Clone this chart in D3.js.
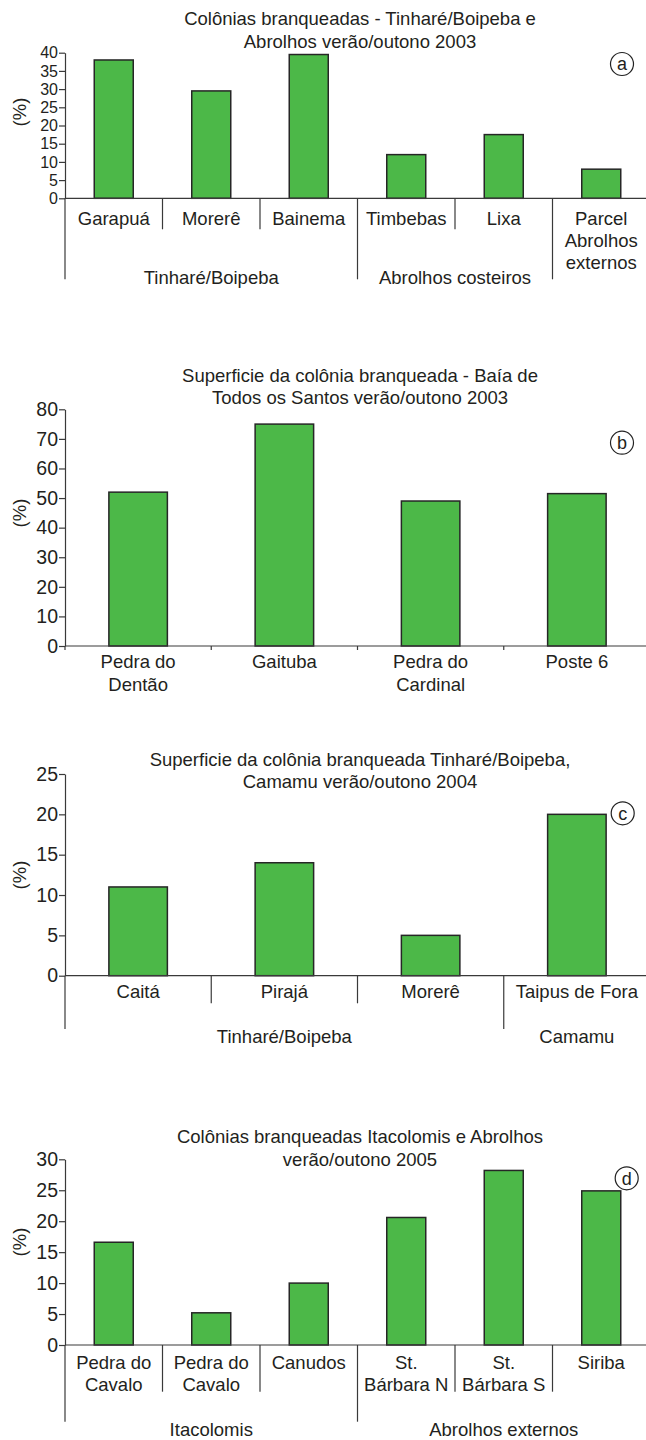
<!DOCTYPE html>
<html>
<head>
<meta charset="utf-8">
<script src="https://cdn.jsdelivr.net/npm/d3@7"></script>
<style>
  html, body { margin: 0; padding: 0; background: #fff; }
  svg { display: block; }
</style>
</head>
<body>
<div id="chart"></div>
<script>
// ---- (a) Colônias branqueadas 2003 ----
const catsA = [["Garapuá"], ["Morerê"], ["Bainema"], ["Timbebas"], ["Lixa"], ["Parcel", "Abrolhos", "externos"]];
const valuesA = [38, 29.5, 39.5, 12, 17.5, 8];
const groupsA = [["Tinharé/Boipeba", 3], ["Abrolhos costeiros", 2], ["", 1]];
const titleA = ["Colônias branqueadas - Tinharé/Boipeba e", "Abrolhos verão/outono 2003"];
const ticksA = [0, 5, 10, 15, 20, 25, 30, 35, 40];

// ---- (b) Baía de Todos os Santos 2003 ----
const catsB = [["Pedra do", "Dentão"], ["Gaituba"], ["Pedra do", "Cardinal"], ["Poste 6"]];
const valuesB = [52, 75, 49, 51.5];
const titleB = ["Superficie da colônia branqueada - Baía de", "Todos os Santos verão/outono 2003"];
const ticksB = [0, 10, 20, 30, 40, 50, 60, 70, 80];

// ---- (c) Tinharé/Boipeba, Camamu 2004 ----
const catsC = [["Caitá"], ["Pirajá"], ["Morerê"], ["Taipus de Fora"]];
const valuesC = [11, 14, 5, 20];
const groupsC = [["Tinharé/Boipeba", 3], ["Camamu", 1]];
const titleC = ["Superficie da colônia branqueada Tinharé/Boipeba,", "Camamu verão/outono 2004"];
const ticksC = [0, 5, 10, 15, 20, 25];

// ---- (d) Itacolomis e Abrolhos 2005 ----
const catsD = [["Pedra do", "Cavalo"], ["Pedra do", "Cavalo"], ["Canudos"], ["St.", "Bárbara N"], ["St.", "Bárbara S"], ["Siriba"]];
const valuesD = [16.6, 5.2, 10, 20.6, 28.2, 24.9];
const groupsD = [["Itacolomis", 3], ["Abrolhos externos", 3]];
const titleD = ["Colônias branqueadas Itacolomis e Abrolhos", "verão/outono 2005"];
const ticksD = [0, 5, 10, 15, 20, 25, 30];

const W = 646, H = 1440;
const FONT = "'Liberation Sans', Arial, Helvetica, sans-serif";
const TEXT = "#231f20";
const AXIS = "#3a3a3a";
const FILL = "#4cb848";
const EDGE = "#262626";
const FS = 18.5;

const svg = d3.select("#chart").append("svg")
  .attr("width", W).attr("height", H)
  .attr("font-family", FONT);

// Panel layout (pixel placement of each chart)
const panels = [
  { badge: "a", cats: catsA, values: valuesA, groups: groupsA, title: titleA, ticks: ticksA,
    zeroY: 198.3, topY: 52.7, titleY: [19, 42], badgeXY: [622, 64], pctY: 112, tickFS: 16,
    labelDY: 20, groupDY: 79, shortDiv: 31, longDiv: 81 },
  { badge: "b", cats: catsB, values: valuesB, groups: null, title: titleB, ticks: ticksB,
    zeroY: 646, topY: 409.3, titleY: [376, 398], badgeXY: [622, 442.7], pctY: 513, tickFS: 19.5,
    labelDY: 16, groupDY: 0, shortDiv: 4, longDiv: 0 },
  { badge: "c", cats: catsC, values: valuesC, groups: groupsC, title: titleC, ticks: ticksC,
    zeroY: 975.7, topY: 774, titleY: [759.3, 781.7], badgeXY: [622.7, 813.3], pctY: 875, tickFS: 19.5,
    labelDY: 16, groupDY: 61, shortDiv: 27.6, longDiv: 53.3 },
  { badge: "d", cats: catsD, values: valuesD, groups: groupsD, title: titleD, ticks: ticksD,
    zeroY: 1345, topY: 1159.3, titleY: [1136.7, 1159.3], badgeXY: [626.7, 1178.3], pctY: 1242, tickFS: 19.5,
    labelDY: 17.7, groupDY: 85, shortDiv: 46.7, longDiv: 76.7 }
];

const X0 = 65, X1 = 650;
const LINE = 22.3;

panels.forEach(p => {
  const g = svg.append("g");
  const idx = p.cats.map((_, i) => i);

  const x = d3.scaleBand().domain(idx).range([X0, X1]).padding(0);
  const barW = x.bandwidth() * 0.4;
  const y = d3.scaleLinear()
    .domain([0, p.ticks[p.ticks.length - 1]])
    .range([p.zeroY, p.topY]);

  // title
  const tt = g.append("text")
    .attr("text-anchor", "middle")
    .attr("font-size", FS)
    .attr("fill", TEXT);
  p.title.forEach((line, i) => {
    tt.append("tspan").attr("x", 360).attr("y", p.titleY[i]).attr("dy", "0.35em").text(line);
  });

  // y axis
  const yAxis = d3.axisLeft(y).tickValues(p.ticks).tickSize(6).tickSizeOuter(0).tickPadding(1);
  const ya = g.append("g").attr("transform", `translate(${X0},0)`).call(yAxis);
  ya.select(".domain").attr("stroke", AXIS).attr("stroke-width", 1.2);
  ya.selectAll(".tick line").attr("stroke", AXIS).attr("stroke-width", 1.2);
  ya.selectAll(".tick text")
    .attr("font-size", p.tickFS).attr("font-family", FONT).attr("fill", TEXT);

  // y axis title
  g.append("text")
    .attr("transform", `translate(20,${p.pctY}) rotate(-90)`)
    .attr("text-anchor", "middle").attr("dy", "0.35em")
    .attr("font-size", FS).attr("fill", TEXT)
    .text("(%)");

  // bars
  g.selectAll("rect.bar").data(p.values).join("rect")
    .attr("class", "bar")
    .attr("x", (d, i) => x(i) + (x.bandwidth() - barW) / 2)
    .attr("y", d => y(d))
    .attr("width", barW)
    .attr("height", d => y(0) - y(d))
    .attr("fill", FILL)
    .attr("stroke", EDGE)
    .attr("stroke-width", 1.5);

  // x baseline
  g.append("line")
    .attr("x1", x.range()[0]).attr("x2", x.range()[1])
    .attr("y1", y(0)).attr("y2", y(0))
    .attr("stroke", AXIS).attr("stroke-width", 1.2);

  // category dividers / ticks
  const groupStarts = new Set();
  if (p.groups) {
    let acc = 0;
    p.groups.forEach(gr => { groupStarts.add(acc); acc += gr[1]; });
  }
  const divs = p.groups ? idx.slice(1) : idx;
  g.selectAll("line.div").data(divs).join("line")
    .attr("class", "div")
    .attr("x1", i => x(i)).attr("x2", i => x(i))
    .attr("y1", y(0))
    .attr("y2", i => y(0) + (groupStarts.has(i) ? p.longDiv : p.shortDiv))
    .attr("stroke", AXIS).attr("stroke-width", 1.2);

  // vertical axis extension below baseline
  if (p.groups) {
    g.append("line")
      .attr("x1", X0).attr("x2", X0)
      .attr("y1", y(0)).attr("y2", y(0) + p.longDiv)
      .attr("stroke", AXIS).attr("stroke-width", 1.2);
  }

  // category labels
  p.cats.forEach((lines, i) => {
    const t = g.append("text")
      .attr("text-anchor", "middle").attr("font-size", FS).attr("fill", TEXT);
    lines.forEach((ln, k) => {
      t.append("tspan")
        .attr("x", x(i) + x.bandwidth() / 2)
        .attr("y", y(0) + p.labelDY + k * LINE)
        .attr("dy", "0.35em")
        .text(ln);
    });
  });

  // group labels
  if (p.groups) {
    let acc = 0;
    p.groups.forEach(gr => {
      const start = x(acc);
      const end = x(acc + gr[1] - 1) + x.bandwidth();
      acc += gr[1];
      if (!gr[0]) return;
      g.append("text")
        .attr("x", (start + end) / 2)
        .attr("y", y(0) + p.groupDY)
        .attr("dy", "0.35em")
        .attr("text-anchor", "middle").attr("font-size", FS).attr("fill", TEXT)
        .text(gr[0]);
    });
  }

  // panel badge
  g.append("circle")
    .attr("cx", p.badgeXY[0]).attr("cy", p.badgeXY[1]).attr("r", 11.5)
    .attr("fill", "#fff").attr("stroke", "#222").attr("stroke-width", 1.2);
  g.append("text")
    .attr("x", p.badgeXY[0]).attr("y", p.badgeXY[1])
    .attr("dy", "0.35em").attr("text-anchor", "middle")
    .attr("font-size", 18).attr("fill", TEXT)
    .text(p.badge);
});
</script>
</body>
</html>
